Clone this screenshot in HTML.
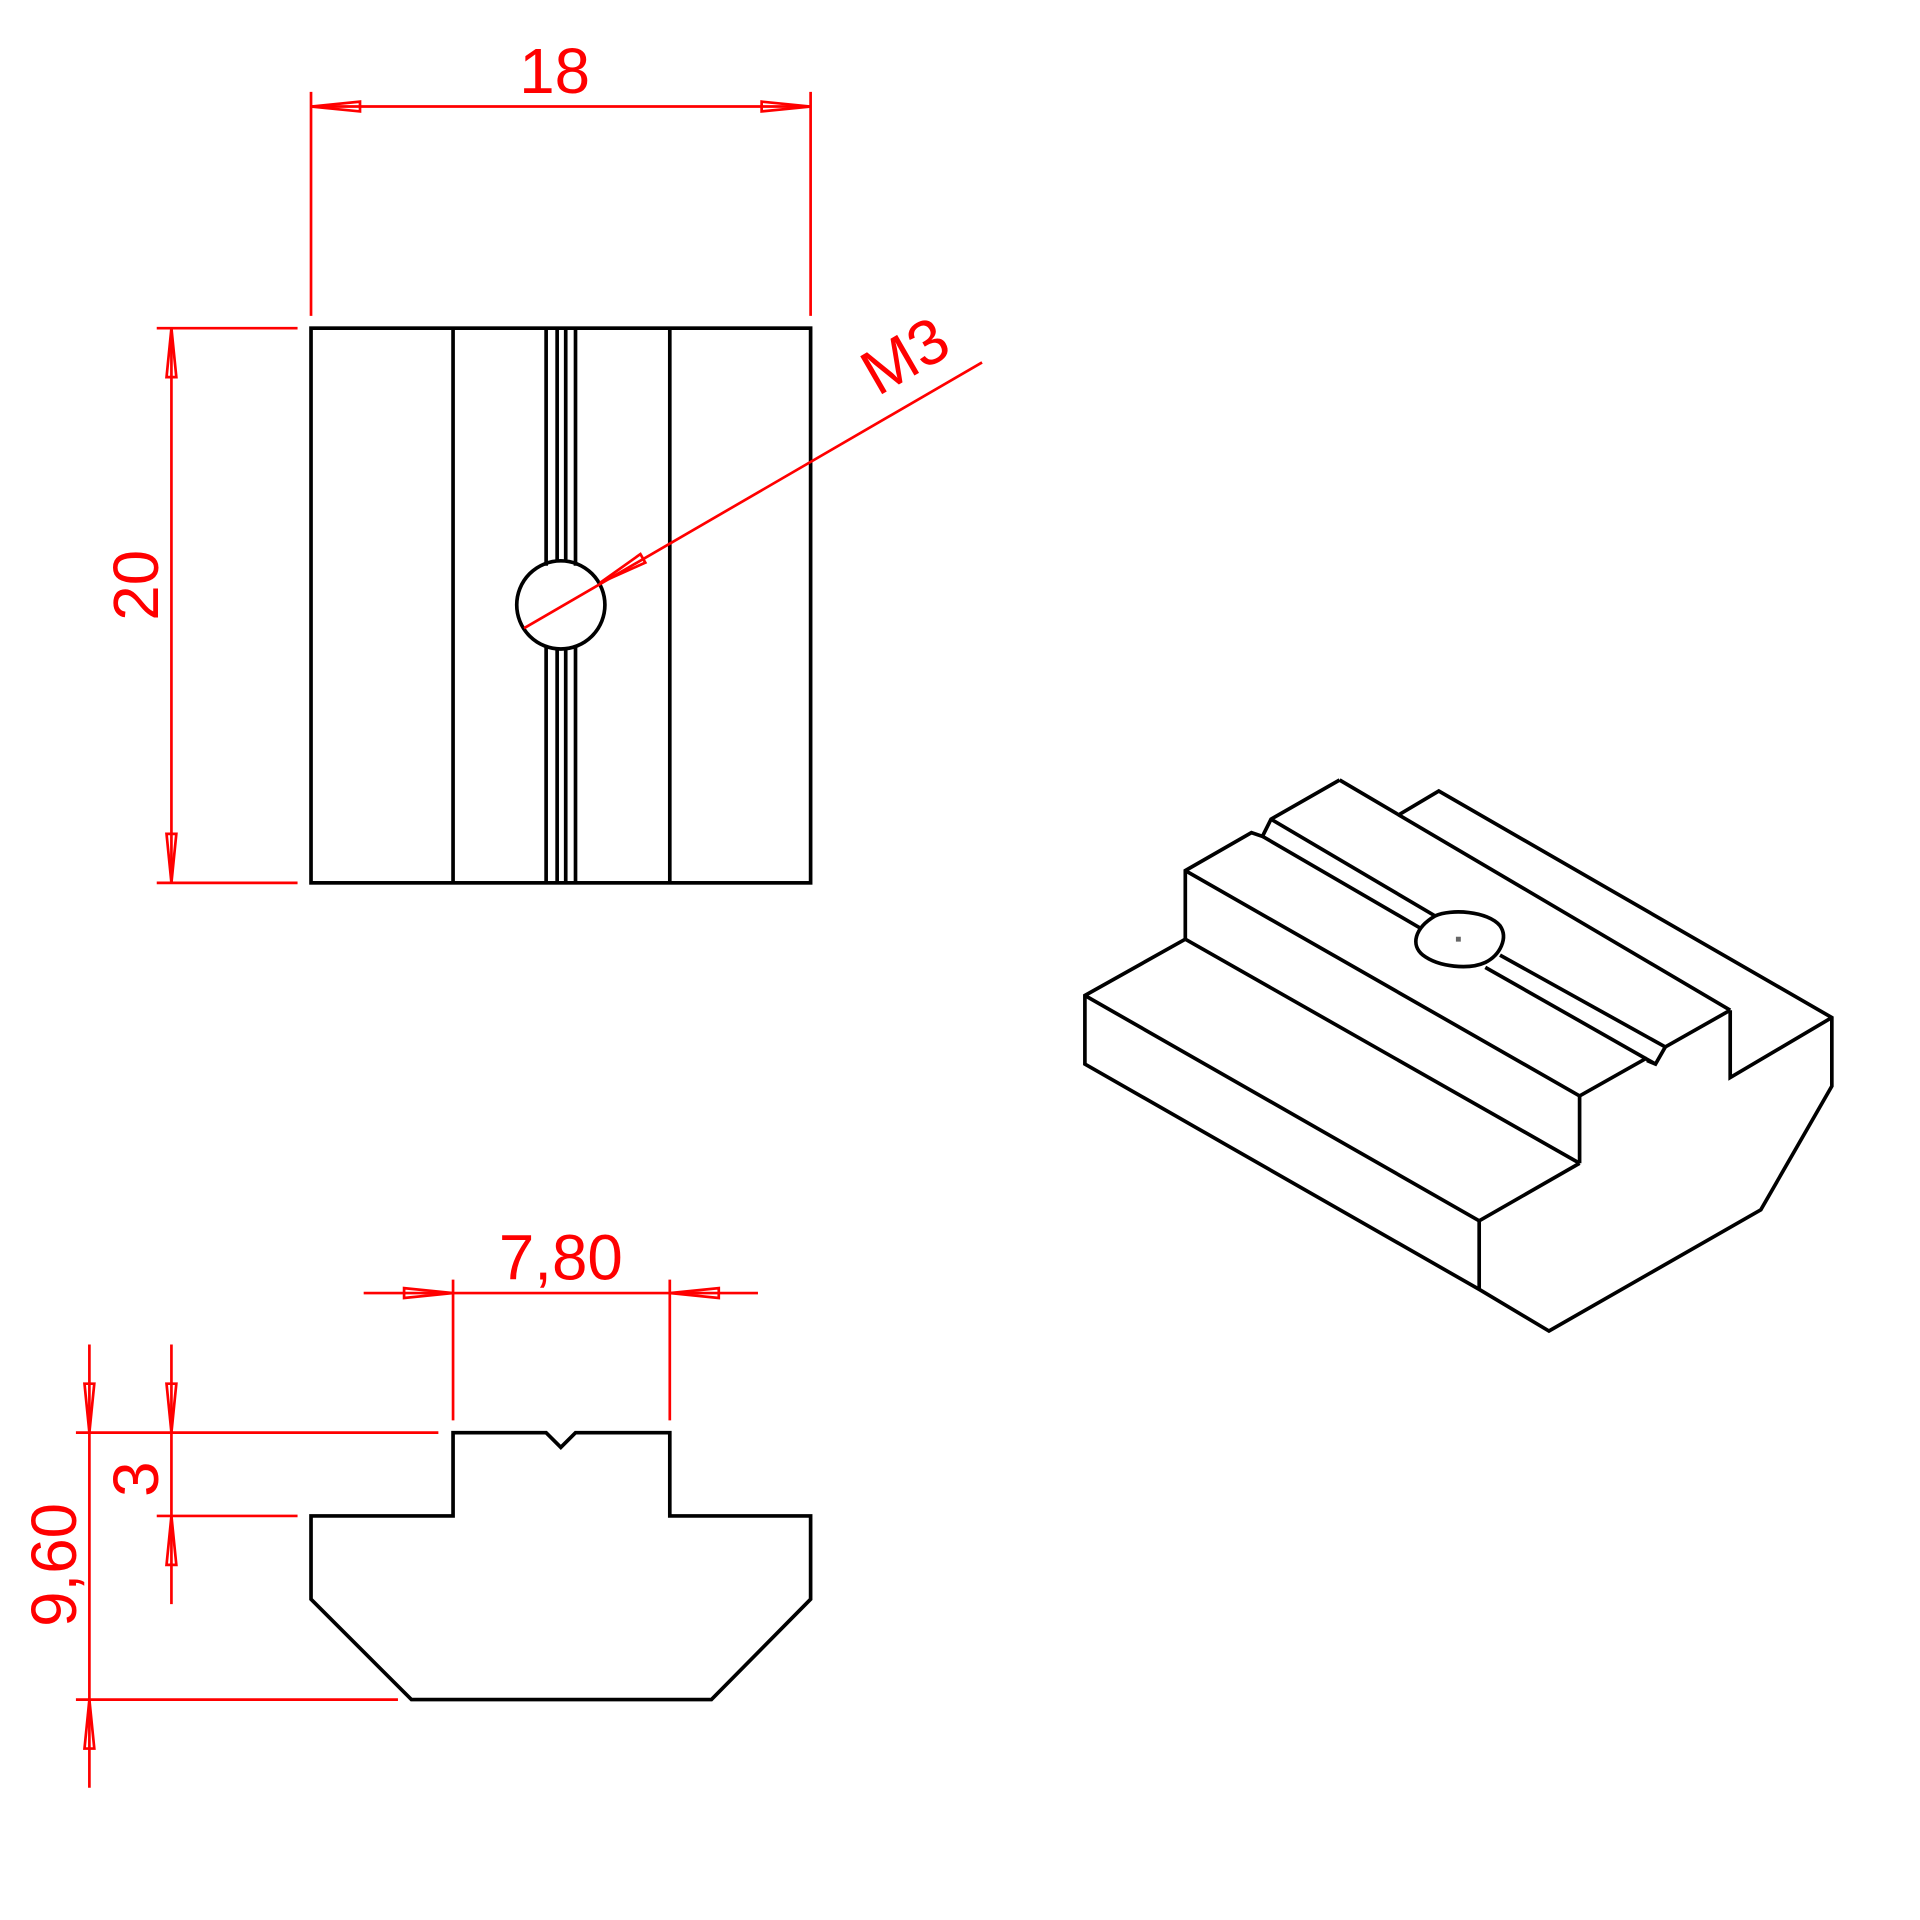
<!DOCTYPE html>
<html><head><meta charset="utf-8"><style>
html,body{margin:0;padding:0;background:#fff;}
svg{display:block;}
text{font-family:"Liberation Sans",sans-serif;fill:#ff0000;font-size:52px;}
</style></head><body>
<svg width="1920" height="1920" viewBox="0 0 1568 1568" xmlns="http://www.w3.org/2000/svg">
<g fill="none" stroke="#000" stroke-width="3" stroke-linejoin="miter">
<rect x="254" y="268" width="408" height="453"/>
<line x1="370" y1="268" x2="370" y2="721"/>
<line x1="547" y1="268" x2="547" y2="721"/>
<line x1="446" y1="268" x2="446" y2="462"/>
<line x1="455" y1="268" x2="455" y2="458"/>
<line x1="462" y1="268" x2="462" y2="458"/>
<line x1="470" y1="268" x2="470" y2="462"/>
<line x1="446" y1="527" x2="446" y2="721"/>
<line x1="455" y1="530" x2="455" y2="721"/>
<line x1="462" y1="530" x2="462" y2="721"/>
<line x1="470" y1="527" x2="470" y2="721"/>
<circle cx="458" cy="494" r="36"/>
<polygon points="370,1170 446,1170 458,1182 470,1170 547,1170 547,1238 662,1238 662,1306 581,1388 336,1388 254,1306 254,1238 370,1238"/>
<polyline points="968,767 886,813 886,869 1208,1053 1265,1087 1438,988 1496,887 1496,831 1175,646 1143,665"/>
<polyline points="1413,825 1413,880 1496,831"/>
<line x1="1094" y1="637" x2="1413" y2="825"/>
<polyline points="1094,637 1038,669 1031,683 1022,680 968,711 968,767"/>
<line x1="1038" y1="669" x2="1172" y2="748"/>
<line x1="1031" y1="683" x2="1160" y2="758"/>
<line x1="1225" y1="780" x2="1360" y2="855"/>
<line x1="1213" y1="790" x2="1352" y2="869"/>
<polyline points="1360,855 1352,869 1345,866"/>
<line x1="1360" y1="855" x2="1413" y2="825"/>
<line x1="968" y1="711" x2="1290" y2="895"/>
<line x1="1290" y1="895" x2="1345" y2="864"/>
<line x1="1290" y1="895" x2="1290" y2="950"/>
<line x1="968" y1="767" x2="1290" y2="950"/>
<line x1="1290" y1="950" x2="1208" y2="997"/>
<line x1="886" y1="813" x2="1208" y2="997"/>
<line x1="1208" y1="997" x2="1208" y2="1053"/>
<path d="M1172,748 C1185,742 1215,744 1225,756 C1232,766 1225,780 1213,786 C1200,792 1175,790 1162,780 C1152,772 1155,758 1172,748 Z"/>
</g>
<rect x="1189" y="765" width="4" height="4" fill="#666"/>
<g fill="none" stroke="#ff0000" stroke-width="2.2">
<line x1="254" y1="75" x2="254" y2="258"/>
<line x1="662" y1="75" x2="662" y2="258"/>
<line x1="254" y1="87" x2="662" y2="87"/>
<polygon points="254,87 294,83 294,91"/>
<polygon points="662,87 622,83 622,91"/>
<line x1="128" y1="268" x2="243" y2="268"/>
<line x1="128" y1="721" x2="243" y2="721"/>
<line x1="140" y1="268" x2="140" y2="721"/>
<polygon points="140,268 136,308 144,308"/>
<polygon points="140,721 136,681 144,681"/>
<line x1="802" y1="296" x2="428" y2="513"/>
<polygon points="490,476 527,459.5 523,452.5"/>
<line x1="370" y1="1045" x2="370" y2="1160"/>
<line x1="547" y1="1045" x2="547" y2="1160"/>
<line x1="297" y1="1056" x2="619" y2="1056"/>
<polygon points="370,1056 330,1052 330,1060"/>
<polygon points="547,1056 587,1052 587,1060"/>
<line x1="62" y1="1170" x2="358" y2="1170"/>
<line x1="128" y1="1238" x2="243" y2="1238"/>
<line x1="140" y1="1098" x2="140" y2="1310"/>
<polygon points="140,1170 136,1130 144,1130"/>
<polygon points="140,1238 136,1278 144,1278"/>
<line x1="62" y1="1388" x2="325" y2="1388"/>
<line x1="73" y1="1098" x2="73" y2="1460"/>
<polygon points="73,1170 69,1130 77,1130"/>
<polygon points="73,1388 69,1428 77,1428"/>
</g>
<g>
<text x="453" y="76" text-anchor="middle">18</text>
<text transform="translate(129,478) rotate(-90)" text-anchor="middle">20</text>
<text transform="translate(748,306) rotate(-30)" text-anchor="middle">M3</text>
<text x="458" y="1045" text-anchor="middle">7,80</text>
<text transform="translate(129,1208) rotate(-90)" text-anchor="middle">3</text>
<text transform="translate(62,1278) rotate(-90)" text-anchor="middle">9,60</text>
</g>
</svg>
</body></html>
